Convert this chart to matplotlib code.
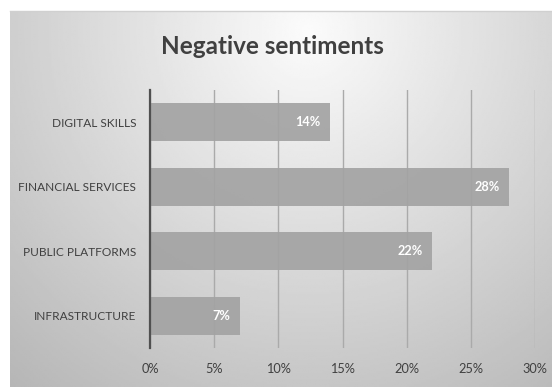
import numpy as np
import matplotlib
matplotlib.use("Agg")
import matplotlib.pyplot as plt
from matplotlib.ticker import FuncFormatter

categories = ["DIGITAL SKILLS", "FINANCIAL SERVICES", "PUBLIC PLATFORMS", "INFRASTRUCTURE"]
values = [14, 28, 22, 7]
xticks = [0, 5, 10, 15, 20, 25, 30]
title = "Negative sentiments"

W, H = 552, 387
fig = plt.figure(figsize=(W / 100, H / 100), dpi=100)
fig.patch.set_facecolor("white")

# background gradient panel
bg = fig.add_axes([10 / W, 0, 1 - 10 / W, 1 - 11 / H])
yy, xx = np.mgrid[0:1:200j, 0:1:300j]
d = np.sqrt(((xx - 0.55) / 0.75) ** 2 + ((yy - 0.05) / 1.1) ** 2)
shade = 0.985 - 0.24 * np.clip(d, 0, 1.2)
bg.imshow(shade, cmap="gray", vmin=0, vmax=1, aspect="auto", extent=[0, 1, 0, 1], origin="upper")
bg.set_axis_off()
fig.add_artist(plt.Line2D([10 / W, 1], [1 - 11 / H, 1 - 11 / H], color="#d0d0d0", lw=1))

ax = fig.add_axes([150 / W, 1 - 348 / H, 385 / W, 258 / H])
ax.patch.set_alpha(0)
y = np.arange(len(categories))
ax.barh(y, values, height=0.59, color="#a3a3a3", alpha=0.92, zorder=2)
ax.set_ylim(len(categories) - 0.5, -0.5)
ax.set_xlim(0, 30)
ax.set_xticks(xticks)
ax.xaxis.set_major_formatter(FuncFormatter(lambda v, p: f"{v:.0f}%"))
ax.set_yticks(y)
ax.set_yticklabels(categories)
ax.grid(axis="x", color="#aaaaaa", lw=1, zorder=1)
for s in ["top", "right", "bottom"]:
    ax.spines[s].set_visible(False)
ax.spines["left"].set_color("#505050")
ax.spines["left"].set_linewidth(1.6)
ax.spines["left"].set_zorder(3)
ax.tick_params(length=0, labelsize=8.6, colors="#404040", labelfontfamily="Lato")
ax.tick_params(axis="x", pad=11, labelsize=9.2)
ax.tick_params(axis="y", pad=10)

for yi, v in zip(y, values):
    ax.text(v - 0.75, yi, f"{v}%", ha="right", va="center", color="white",
            fontsize=9.2, fontweight="bold", family="Lato", zorder=4)

fig.text(272 / W, 1 - 46 / H, title, ha="center", va="center", fontsize=17.5,
         fontweight="bold", family="Lato", color="#404040")

fig.savefig("out.png", dpi=100)
